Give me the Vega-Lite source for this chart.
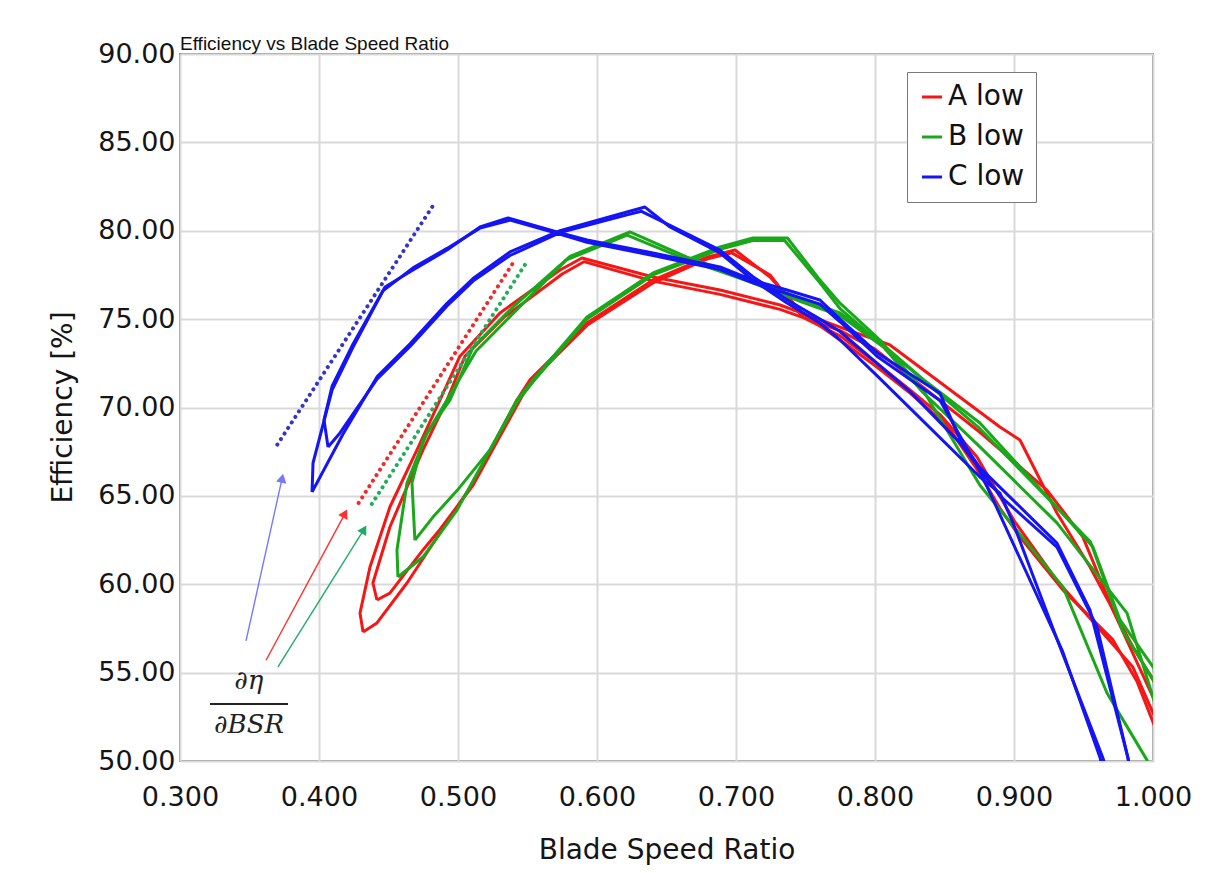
{
"$schema":"https://vega.github.io/schema/vega-lite/v6.json",
"width":973,"height":707,
"autosize":{"type":"none"},
"padding":{"left":180,"top":54,"right":58,"bottom":112},
"background":"white",
"config":{
 "view":{"stroke":"#8c8c8c","strokeWidth":2},
 "axis":{"gridColor":"#d9d9d9","gridWidth":2,"domain":false,"ticks":false,"labelFlush":false,"labelOverlap":false,"labelFont":"DejaVu Sans","labelFontSize":27,"labelColor":"#151515","titleFont":"DejaVu Sans","titleFontSize":28,"titleFontWeight":"normal","titleColor":"#151515"}
},
"title":{"text":"Efficiency vs Blade Speed Ratio","anchor":"start","frame":"group","font":"Liberation Sans","fontSize":19,"fontWeight":"normal","color":"#111","offset":4,"dy":18},
"datasets":{
"curves":[
{"s":"A low","c":"A1","o":1,"x":0.4317,"y":57.3},{"s":"A low","c":"A1","o":2,"x":0.4295,"y":58.37},{"s":"A low","c":"A1","o":3,"x":0.4367,"y":60.98},{"s":"A low","c":"A1","o":4,"x":0.451,"y":64.37},{"s":"A low","c":"A1","o":5,"x":0.4705,"y":67.6},{"s":"A low","c":"A1","o":6,"x":0.487,"y":70.42},{"s":"A low","c":"A1","o":7,"x":0.5014,"y":72.9},{"s":"A low","c":"A1","o":8,"x":0.5302,"y":75.35},{"s":"A low","c":"A1","o":9,"x":0.5734,"y":77.78},{"s":"A low","c":"A1","o":10,"x":0.5892,"y":78.46},{"s":"A low","c":"A1","o":11,"x":0.6403,"y":77.38},{"s":"A low","c":"A1","o":12,"x":0.6885,"y":76.65},{"s":"A low","c":"A1","o":13,"x":0.7317,"y":75.8},{"s":"A low","c":"A1","o":14,"x":0.7748,"y":74.55},{"s":"A low","c":"A1","o":15,"x":0.8108,"y":73.54},{"s":"A low","c":"A1","o":16,"x":0.8899,"y":68.9},{"s":"A low","c":"A1","o":17,"x":0.9043,"y":68.16},{"s":"A low","c":"A1","o":18,"x":0.9309,"y":64.03},{"s":"A low","c":"A1","o":19,"x":0.9547,"y":60.98},{"s":"A low","c":"A1","o":20,"x":0.9856,"y":56.45},{"s":"A low","c":"A1","o":21,"x":1.0,"y":54.6},{"s":"A low","c":"A1","o":22,"x":1.02,"y":51.5},{"s":"A low","c":"A1","o":23,"x":1.01,"y":50.2},{"s":"A low","c":"A1","o":24,"x":1.0,"y":52.2},{"s":"A low","c":"A1","o":25,"x":0.9885,"y":54.5},{"s":"A low","c":"A1","o":26,"x":0.9712,"y":56.85},{"s":"A low","c":"A1","o":27,"x":0.9353,"y":59.67},{"s":"A low","c":"A1","o":28,"x":0.9043,"y":62.67},{"s":"A low","c":"A1","o":29,"x":0.8899,"y":64.3},{"s":"A low","c":"A1","o":30,"x":0.8734,"y":66.5},{"s":"A low","c":"A1","o":31,"x":0.8518,"y":69.0},{"s":"A low","c":"A1","o":32,"x":0.8252,"y":70.82},{"s":"A low","c":"A1","o":33,"x":0.8014,"y":72.29},{"s":"A low","c":"A1","o":34,"x":0.7748,"y":73.82},{"s":"A low","c":"A1","o":35,"x":0.7482,"y":75.3},{"s":"A low","c":"A1","o":36,"x":0.7245,"y":77.38},{"s":"A low","c":"A1","o":37,"x":0.6993,"y":78.91},{"s":"A low","c":"A1","o":38,"x":0.6791,"y":78.51},{"s":"A low","c":"A1","o":39,"x":0.6403,"y":77.21},{"s":"A low","c":"A1","o":40,"x":0.5928,"y":74.78},{"s":"A low","c":"A1","o":41,"x":0.5518,"y":71.56},{"s":"A low","c":"A1","o":42,"x":0.5424,"y":70.42},{"s":"A low","c":"A1","o":43,"x":0.5108,"y":65.73},{"s":"A low","c":"A1","o":44,"x":0.487,"y":62.9},{"s":"A low","c":"A1","o":45,"x":0.4633,"y":60.07},{"s":"A low","c":"A1","o":46,"x":0.4417,"y":57.81},{"s":"A low","c":"A1","o":47,"x":0.4317,"y":57.3},
{"s":"A low","c":"A2","o":1,"x":0.4417,"y":59.11},{"s":"A low","c":"A2","o":2,"x":0.4388,"y":60.07},{"s":"A low","c":"A2","o":3,"x":0.451,"y":63.24},{"s":"A low","c":"A2","o":4,"x":0.4748,"y":67.6},{"s":"A low","c":"A2","o":5,"x":0.4921,"y":70.42},{"s":"A low","c":"A2","o":6,"x":0.505,"y":72.9},{"s":"A low","c":"A2","o":7,"x":0.533,"y":75.1},{"s":"A low","c":"A2","o":8,"x":0.575,"y":77.55},{"s":"A low","c":"A2","o":9,"x":0.5906,"y":78.25},{"s":"A low","c":"A2","o":10,"x":0.6403,"y":77.15},{"s":"A low","c":"A2","o":11,"x":0.6885,"y":76.4},{"s":"A low","c":"A2","o":12,"x":0.7317,"y":75.55},{"s":"A low","c":"A2","o":13,"x":0.7748,"y":74.35},{"s":"A low","c":"A2","o":14,"x":0.8,"y":73.3},{"s":"A low","c":"A2","o":15,"x":0.8755,"y":68.6},{"s":"A low","c":"A2","o":16,"x":0.9237,"y":65.33},{"s":"A low","c":"A2","o":17,"x":0.9496,"y":62.67},{"s":"A low","c":"A2","o":18,"x":0.9712,"y":58.54},{"s":"A low","c":"A2","o":19,"x":1.0,"y":53.62},{"s":"A low","c":"A2","o":20,"x":1.01,"y":51.9},{"s":"A low","c":"A2","o":21,"x":1.01,"y":50.9},{"s":"A low","c":"A2","o":22,"x":1.0,"y":52.72},{"s":"A low","c":"A2","o":23,"x":0.9856,"y":55.3},{"s":"A low","c":"A2","o":24,"x":0.96,"y":57.6},{"s":"A low","c":"A2","o":25,"x":0.93,"y":60.3},{"s":"A low","c":"A2","o":26,"x":0.9,"y":63.6},{"s":"A low","c":"A2","o":27,"x":0.8734,"y":67.2},{"s":"A low","c":"A2","o":28,"x":0.8468,"y":69.6},{"s":"A low","c":"A2","o":29,"x":0.8252,"y":71.0},{"s":"A low","c":"A2","o":30,"x":0.8014,"y":72.5},{"s":"A low","c":"A2","o":31,"x":0.7748,"y":74.05},{"s":"A low","c":"A2","o":32,"x":0.7482,"y":75.1},{"s":"A low","c":"A2","o":33,"x":0.7245,"y":77.5},{"s":"A low","c":"A2","o":34,"x":0.697,"y":78.75},{"s":"A low","c":"A2","o":35,"x":0.679,"y":78.4},{"s":"A low","c":"A2","o":36,"x":0.6403,"y":77.05},{"s":"A low","c":"A2","o":37,"x":0.5928,"y":74.65},{"s":"A low","c":"A2","o":38,"x":0.5518,"y":71.45},{"s":"A low","c":"A2","o":39,"x":0.5108,"y":65.6},{"s":"A low","c":"A2","o":40,"x":0.487,"y":63.1},{"s":"A low","c":"A2","o":41,"x":0.4748,"y":61.94},{"s":"A low","c":"A2","o":42,"x":0.451,"y":59.5},{"s":"A low","c":"A2","o":43,"x":0.4417,"y":59.11},
{"s":"B low","c":"B1","o":1,"x":0.4568,"y":60.41},{"s":"B low","c":"B1","o":2,"x":0.4561,"y":61.94},{"s":"B low","c":"B1","o":3,"x":0.4633,"y":65.73},{"s":"B low","c":"B1","o":4,"x":0.4777,"y":68.56},{"s":"B low","c":"B1","o":5,"x":0.4942,"y":70.42},{"s":"B low","c":"B1","o":6,"x":0.5108,"y":73.4},{"s":"B low","c":"B1","o":7,"x":0.5396,"y":75.69},{"s":"B low","c":"B1","o":8,"x":0.5806,"y":78.55},{"s":"B low","c":"B1","o":9,"x":0.6237,"y":79.93},{"s":"B low","c":"B1","o":10,"x":0.6647,"y":78.51},{"s":"B low","c":"B1","o":11,"x":0.7122,"y":77.21},{"s":"B low","c":"B1","o":12,"x":0.7482,"y":76.08},{"s":"B low","c":"B1","o":13,"x":0.7748,"y":75.35},{"s":"B low","c":"B1","o":14,"x":0.8036,"y":73.7},{"s":"B low","c":"B1","o":15,"x":0.8345,"y":71.6},{"s":"B low","c":"B1","o":16,"x":0.8755,"y":69.12},{"s":"B low","c":"B1","o":17,"x":0.9568,"y":62.11},{"s":"B low","c":"B1","o":18,"x":0.9763,"y":57.98},{"s":"B low","c":"B1","o":19,"x":1.0,"y":55.32},{"s":"B low","c":"B1","o":20,"x":1.01,"y":54.2},{"s":"B low","c":"B1","o":21,"x":1.01,"y":45},{"s":"B low","c":"B1","o":22,"x":0.9957,"y":50.05},{"s":"B low","c":"B1","o":23,"x":0.9669,"y":53.85},{"s":"B low","c":"B1","o":24,"x":0.9353,"y":59.84},{"s":"B low","c":"B1","o":25,"x":0.8755,"y":65.6},{"s":"B low","c":"B1","o":26,"x":0.8345,"y":70.99},{"s":"B low","c":"B1","o":27,"x":0.8036,"y":73.82},{"s":"B low","c":"B1","o":28,"x":0.7748,"y":75.9},{"s":"B low","c":"B1","o":29,"x":0.7604,"y":77.21},{"s":"B low","c":"B1","o":30,"x":0.737,"y":79.59},{"s":"B low","c":"B1","o":31,"x":0.7122,"y":79.59},{"s":"B low","c":"B1","o":32,"x":0.6885,"y":79.08},{"s":"B low","c":"B1","o":33,"x":0.6403,"y":77.61},{"s":"B low","c":"B1","o":34,"x":0.5928,"y":75.12},{"s":"B low","c":"B1","o":35,"x":0.554,"y":71.56},{"s":"B low","c":"B1","o":36,"x":0.5424,"y":70.42},{"s":"B low","c":"B1","o":37,"x":0.523,"y":67.6},{"s":"B low","c":"B1","o":38,"x":0.4993,"y":64.2},{"s":"B low","c":"B1","o":39,"x":0.4748,"y":61.54},{"s":"B low","c":"B1","o":40,"x":0.4568,"y":60.41},
{"s":"B low","c":"B2","o":1,"x":0.469,"y":62.5},{"s":"B low","c":"B2","o":2,"x":0.4669,"y":65.73},{"s":"B low","c":"B2","o":3,"x":0.4748,"y":68.16},{"s":"B low","c":"B2","o":4,"x":0.4921,"y":70.42},{"s":"B low","c":"B2","o":5,"x":0.513,"y":73.2},{"s":"B low","c":"B2","o":6,"x":0.542,"y":75.5},{"s":"B low","c":"B2","o":7,"x":0.578,"y":78.35},{"s":"B low","c":"B2","o":8,"x":0.6216,"y":79.75},{"s":"B low","c":"B2","o":9,"x":0.665,"y":78.35},{"s":"B low","c":"B2","o":10,"x":0.712,"y":77.05},{"s":"B low","c":"B2","o":11,"x":0.748,"y":75.95},{"s":"B low","c":"B2","o":12,"x":0.7748,"y":75.2},{"s":"B low","c":"B2","o":13,"x":0.81,"y":73.2},{"s":"B low","c":"B2","o":14,"x":0.8755,"y":68.8},{"s":"B low","c":"B2","o":15,"x":0.955,"y":62.4},{"s":"B low","c":"B2","o":16,"x":0.978,"y":57.4},{"s":"B low","c":"B2","o":17,"x":1.0,"y":54.6},{"s":"B low","c":"B2","o":18,"x":1.01,"y":53.3},{"s":"B low","c":"B2","o":19,"x":1.01,"y":51},{"s":"B low","c":"B2","o":20,"x":1.0,"y":53.6},{"s":"B low","c":"B2","o":21,"x":0.9813,"y":58.37},{"s":"B low","c":"B2","o":22,"x":0.9309,"y":63.47},{"s":"B low","c":"B2","o":23,"x":0.8755,"y":67.77},{"s":"B low","c":"B2","o":24,"x":0.8345,"y":70.85},{"s":"B low","c":"B2","o":25,"x":0.8036,"y":73.65},{"s":"B low","c":"B2","o":26,"x":0.7748,"y":75.6},{"s":"B low","c":"B2","o":27,"x":0.7604,"y":77.05},{"s":"B low","c":"B2","o":28,"x":0.735,"y":79.45},{"s":"B low","c":"B2","o":29,"x":0.712,"y":79.45},{"s":"B low","c":"B2","o":30,"x":0.6885,"y":78.95},{"s":"B low","c":"B2","o":31,"x":0.6403,"y":77.5},{"s":"B low","c":"B2","o":32,"x":0.5928,"y":75.0},{"s":"B low","c":"B2","o":33,"x":0.554,"y":71.45},{"s":"B low","c":"B2","o":34,"x":0.5424,"y":70.3},{"s":"B low","c":"B2","o":35,"x":0.523,"y":67.6},{"s":"B low","c":"B2","o":36,"x":0.4993,"y":65.3},{"s":"B low","c":"B2","o":37,"x":0.482,"y":63.8},{"s":"B low","c":"B2","o":38,"x":0.469,"y":62.5},
{"s":"C low","c":"C1","o":1,"x":0.395,"y":65.22},{"s":"C low","c":"C1","o":2,"x":0.3957,"y":66.86},{"s":"C low","c":"C1","o":3,"x":0.4094,"y":70.99},{"s":"C low","c":"C1","o":4,"x":0.4245,"y":73.42},{"s":"C low","c":"C1","o":5,"x":0.4475,"y":76.82},{"s":"C low","c":"C1","o":6,"x":0.4676,"y":77.78},{"s":"C low","c":"C1","o":7,"x":0.4921,"y":78.91},{"s":"C low","c":"C1","o":8,"x":0.5158,"y":80.21},{"s":"C low","c":"C1","o":9,"x":0.536,"y":80.72},{"s":"C low","c":"C1","o":10,"x":0.5712,"y":79.93},{"s":"C low","c":"C1","o":11,"x":0.5928,"y":79.48},{"s":"C low","c":"C1","o":12,"x":0.6403,"y":78.74},{"s":"C low","c":"C1","o":13,"x":0.6885,"y":77.95},{"s":"C low","c":"C1","o":14,"x":0.7122,"y":77.21},{"s":"C low","c":"C1","o":15,"x":0.7367,"y":76.65},{"s":"C low","c":"C1","o":16,"x":0.7604,"y":76.08},{"s":"C low","c":"C1","o":17,"x":0.7748,"y":75.0},{"s":"C low","c":"C1","o":18,"x":0.8014,"y":73.1},{"s":"C low","c":"C1","o":19,"x":0.8468,"y":70.8},{"s":"C low","c":"C1","o":20,"x":0.8612,"y":68.2},{"s":"C low","c":"C1","o":21,"x":0.8755,"y":66.6},{"s":"C low","c":"C1","o":22,"x":0.9309,"y":62.33},{"s":"C low","c":"C1","o":23,"x":0.9547,"y":58.54},{"s":"C low","c":"C1","o":24,"x":0.982,"y":50.17},{"s":"C low","c":"C1","o":25,"x":0.99,"y":47},{"s":"C low","c":"C1","o":26,"x":0.975,"y":47},{"s":"C low","c":"C1","o":27,"x":0.964,"y":50.17},{"s":"C low","c":"C1","o":28,"x":0.9331,"y":56.45},{"s":"C low","c":"C1","o":29,"x":0.8993,"y":63.47},{"s":"C low","c":"C1","o":30,"x":0.8899,"y":65.16},{"s":"C low","c":"C1","o":31,"x":0.8755,"y":66.07},{"s":"C low","c":"C1","o":32,"x":0.8014,"y":71.8},{"s":"C low","c":"C1","o":33,"x":0.7748,"y":73.82},{"s":"C low","c":"C1","o":34,"x":0.7604,"y":74.78},{"s":"C low","c":"C1","o":35,"x":0.7367,"y":75.91},{"s":"C low","c":"C1","o":36,"x":0.7122,"y":77.21},{"s":"C low","c":"C1","o":37,"x":0.6885,"y":78.74},{"s":"C low","c":"C1","o":38,"x":0.6525,"y":80.21},{"s":"C low","c":"C1","o":39,"x":0.6345,"y":81.34},{"s":"C low","c":"C1","o":40,"x":0.6216,"y":81.06},{"s":"C low","c":"C1","o":41,"x":0.5734,"y":80.0},{"s":"C low","c":"C1","o":42,"x":0.5374,"y":78.8},{"s":"C low","c":"C1","o":43,"x":0.5108,"y":77.3},{"s":"C low","c":"C1","o":44,"x":0.4921,"y":75.9},{"s":"C low","c":"C1","o":45,"x":0.4655,"y":73.6},{"s":"C low","c":"C1","o":46,"x":0.4417,"y":71.73},{"s":"C low","c":"C1","o":47,"x":0.4173,"y":68.5},{"s":"C low","c":"C1","o":48,"x":0.395,"y":65.22},
{"s":"C low","c":"C2","o":1,"x":0.4065,"y":67.77},{"s":"C low","c":"C2","o":2,"x":0.4036,"y":69.3},{"s":"C low","c":"C2","o":3,"x":0.4094,"y":71.2},{"s":"C low","c":"C2","o":4,"x":0.4245,"y":73.6},{"s":"C low","c":"C2","o":5,"x":0.446,"y":76.6},{"s":"C low","c":"C2","o":6,"x":0.4676,"y":77.9},{"s":"C low","c":"C2","o":7,"x":0.4921,"y":79.0},{"s":"C low","c":"C2","o":8,"x":0.5158,"y":80.15},{"s":"C low","c":"C2","o":9,"x":0.5374,"y":80.6},{"s":"C low","c":"C2","o":10,"x":0.5712,"y":79.85},{"s":"C low","c":"C2","o":11,"x":0.5928,"y":79.35},{"s":"C low","c":"C2","o":12,"x":0.6403,"y":78.6},{"s":"C low","c":"C2","o":13,"x":0.6885,"y":77.8},{"s":"C low","c":"C2","o":14,"x":0.7122,"y":77.05},{"s":"C low","c":"C2","o":15,"x":0.7367,"y":76.45},{"s":"C low","c":"C2","o":16,"x":0.7604,"y":75.85},{"s":"C low","c":"C2","o":17,"x":0.7748,"y":74.85},{"s":"C low","c":"C2","o":18,"x":0.8014,"y":72.9},{"s":"C low","c":"C2","o":19,"x":0.8468,"y":70.4},{"s":"C low","c":"C2","o":20,"x":0.8755,"y":66.4},{"s":"C low","c":"C2","o":21,"x":0.9,"y":62.2},{"s":"C low","c":"C2","o":22,"x":0.935,"y":56.2},{"s":"C low","c":"C2","o":23,"x":0.962,"y":50.17},{"s":"C low","c":"C2","o":24,"x":0.97,"y":47},{"s":"C low","c":"C2","o":25,"x":0.99,"y":46},{"s":"C low","c":"C2","o":26,"x":0.982,"y":50.17},{"s":"C low","c":"C2","o":27,"x":0.9597,"y":57.6},{"s":"C low","c":"C2","o":28,"x":0.9309,"y":62.1},{"s":"C low","c":"C2","o":29,"x":0.8899,"y":65.0},{"s":"C low","c":"C2","o":30,"x":0.8612,"y":68.0},{"s":"C low","c":"C2","o":31,"x":0.8252,"y":70.9},{"s":"C low","c":"C2","o":32,"x":0.7748,"y":74.3},{"s":"C low","c":"C2","o":33,"x":0.7604,"y":75.0},{"s":"C low","c":"C2","o":34,"x":0.7367,"y":76.1},{"s":"C low","c":"C2","o":35,"x":0.7122,"y":77.4},{"s":"C low","c":"C2","o":36,"x":0.6885,"y":78.9},{"s":"C low","c":"C2","o":37,"x":0.6525,"y":80.3},{"s":"C low","c":"C2","o":38,"x":0.632,"y":81.1},{"s":"C low","c":"C2","o":39,"x":0.6216,"y":80.9},{"s":"C low","c":"C2","o":40,"x":0.5734,"y":79.9},{"s":"C low","c":"C2","o":41,"x":0.5374,"y":78.6},{"s":"C low","c":"C2","o":42,"x":0.5108,"y":77.15},{"s":"C low","c":"C2","o":43,"x":0.4921,"y":75.75},{"s":"C low","c":"C2","o":44,"x":0.4655,"y":73.45},{"s":"C low","c":"C2","o":45,"x":0.4417,"y":71.6},{"s":"C low","c":"C2","o":46,"x":0.4151,"y":68.56},{"s":"C low","c":"C2","o":47,"x":0.4065,"y":67.77}
],
"tangents":[
{"k":"C","x":0.37,"y":67.9},{"k":"C","x":0.4835,"y":81.6},
{"k":"A","x":0.4285,"y":64.6},{"k":"A","x":0.541,"y":78.35},
{"k":"B","x":0.438,"y":64.54},{"k":"B","x":0.5504,"y":78.35}
],
"arrows":[
{"k":"C","x":0.3475,"y":56.8},{"k":"C","x":0.3735,"y":66.0},
{"k":"A","x":0.3619,"y":55.7},{"k":"A","x":0.4187,"y":64.0},
{"k":"B","x":0.3705,"y":55.32},{"k":"B","x":0.4324,"y":63.1}
],
"heads":[
{"k":"C","x":0.3735,"y":66.0},
{"k":"A","x":0.4187,"y":64.0},
{"k":"B","x":0.4324,"y":63.1}
],
"frac":[
{"t":"∂η","x":0.3495,"y":54.5},
{"t":"∂BSR","x":0.3497,"y":52.05}
],
"bar":[{"x":0.3216,"x2":0.3777,"y":53.22}]
},
"resolve":{"scale":{"color":"independent"},"legend":{"color":"independent"}},
"layer":[
{"data":{"name":"curves"},
 "mark":{"type":"line","strokeWidth":3,"clip":true,"strokeJoin":"round"},
 "encoding":{
  "x":{"field":"x","type":"quantitative","scale":{"domain":[0.3,1.0],"nice":false,"zero":false},
       "axis":{"values":[0.3,0.4,0.5,0.6,0.7,0.8,0.9,1.0],"format":".3f","title":"Blade Speed Ratio","labelPadding":44,"labelBaseline":"alphabetic","titleY":97,"titleBaseline":"alphabetic"}},
  "y":{"field":"y","type":"quantitative","scale":{"domain":[50,90],"nice":false,"zero":false},
       "axis":{"values":[50,55,60,65,70,75,80,85,90],"format":".2f","title":"Efficiency [%]","labelPadding":5,"titleX":-117,"titleY":353,"titleBaseline":"middle","titleAlign":"center","titleAngle":270}},
  "color":{"field":"s","type":"nominal","scale":{"domain":["A low","B low","C low"],"range":["#f51616","#1aa81a","#1414f5"]},
       "legend":{"title":null,"orient":"none","legendX":727,"legendY":18,"strokeColor":"#7a7a7a","fillColor":"white","padding":11,"symbolType":"stroke","symbolSize":400,"symbolStrokeWidth":3,"labelFont":"DejaVu Sans","labelFontSize":28,"labelColor":"#111","rowPadding":12,"labelOffset":2}},
  "detail":{"field":"c"},
  "order":{"field":"o","type":"quantitative"}
 }},
{"data":{"name":"tangents"},
 "mark":{"type":"line","strokeWidth":4,"strokeDash":[0.1,6.5],"strokeCap":"round"},
 "encoding":{
  "x":{"field":"x","type":"quantitative"},
  "y":{"field":"y","type":"quantitative"},
  "color":{"field":"k","type":"nominal","scale":{"domain":["A","B","C"],"range":["#f02a2a","#1fae5a","#3434c8"]},"legend":null},
  "detail":{"field":"k"}
 }},
{"data":{"name":"arrows"},
 "mark":{"type":"line","strokeWidth":1.4},
 "encoding":{
  "x":{"field":"x","type":"quantitative"},
  "y":{"field":"y","type":"quantitative"},
  "color":{"field":"k","type":"nominal","scale":{"domain":["A","B","C"],"range":["#ff3030","#22aa66","#7878ff"]},"legend":null},
  "detail":{"field":"k"}
 }},
{"data":{"name":"heads"},"transform":[{"filter":"datum.k==='C'"}],
 "mark":{"type":"point","shape":"triangle-up","filled":true,"size":110,"angle":12,"color":"#7878ff","opacity":1},
 "encoding":{"x":{"field":"x","type":"quantitative"},"y":{"field":"y","type":"quantitative"}}},
{"data":{"name":"heads"},"transform":[{"filter":"datum.k==='A'"}],
 "mark":{"type":"point","shape":"triangle-up","filled":true,"size":110,"angle":28,"color":"#ff3030","opacity":1},
 "encoding":{"x":{"field":"x","type":"quantitative"},"y":{"field":"y","type":"quantitative"}}},
{"data":{"name":"heads"},"transform":[{"filter":"datum.k==='B'"}],
 "mark":{"type":"point","shape":"triangle-up","filled":true,"size":110,"angle":31,"color":"#22aa66","opacity":1},
 "encoding":{"x":{"field":"x","type":"quantitative"},"y":{"field":"y","type":"quantitative"}}},
{"data":{"name":"frac"},
 "mark":{"type":"text","font":"DejaVu Serif","fontStyle":"italic","fontSize":26,"color":"#222","baseline":"middle","align":"center"},
 "encoding":{"x":{"field":"x","type":"quantitative"},"y":{"field":"y","type":"quantitative"},"text":{"field":"t"}}},
{"data":{"name":"bar"},
 "mark":{"type":"rule","strokeWidth":2,"color":"#222"},
 "encoding":{"x":{"field":"x","type":"quantitative"},"x2":{"field":"x2"},"y":{"field":"y","type":"quantitative"}}}
]
}
